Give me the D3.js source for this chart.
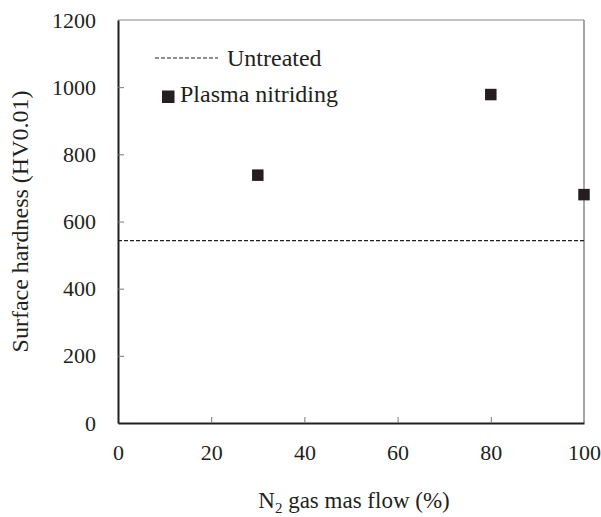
<!DOCTYPE html>
<html>
<head>
<meta charset="utf-8">
<script src="https://cdn.jsdelivr.net/npm/d3@7"></script>
<style>
  body { margin: 0; background: #fff; }
  text { font-family: "Liberation Serif", "Times New Roman", serif; fill: #231f20; }
</style>
</head>
<body>
<svg id="chart" width="601" height="517"></svg>
<script>
// ------ data ------
var flow = [30, 80, 100]
var hardness = [738, 978, 680]
var untreated = 543
var xTicks = [0, 20, 40, 60, 80, 100]
var yTicks = [0, 200, 400, 600, 800, 1000, 1200]

var svg = d3.select('#chart')
var plotLeft = 118, plotRight = 584, plotTop = 20, plotBottom = 423
var ink = '#231f20'

var x = d3.scaleLinear().domain([0, 100]).range([plotLeft, plotRight])
var y = d3.scaleLinear().domain([0, 1200]).range([plotBottom, plotTop])

// ------ frame ------
svg.append('line').attr('x1', plotLeft).attr('x2', plotRight).attr('y1', plotTop).attr('y2', plotTop)
  .attr('stroke', '#888').attr('stroke-width', 1)
svg.append('line').attr('x1', plotRight).attr('x2', plotRight).attr('y1', plotTop).attr('y2', plotBottom)
  .attr('stroke', '#888').attr('stroke-width', 1.5)

// ------ axes: ticks point inward ------
var xAxis = svg.append('g').attr('transform', 'translate(0,' + plotBottom + ')')
  .call(d3.axisBottom(x).tickValues(xTicks).tickFormat(d3.format('d'))
    .tickSizeInner(-6).tickSizeOuter(0))
var yAxis = svg.append('g').attr('transform', 'translate(' + plotLeft + ',0)')
  .call(d3.axisLeft(y).tickValues(yTicks).tickFormat(d3.format('d'))
    .tickSizeInner(-6).tickSizeOuter(0))

;[xAxis, yAxis].forEach(function (g) {
  g.select('.domain').attr('stroke', ink).attr('stroke-width', 2)
  g.selectAll('.tick line').attr('stroke', '#777').attr('stroke-width', 1)
  g.selectAll('.tick text').attr('font-size', 22).attr('fill', ink)
    .style('font-family', '"Liberation Serif", serif')
})
xAxis.selectAll('.tick text').attr('y', 21)
yAxis.selectAll('.tick text').attr('x', -22)
yAxis.selectAll('.tick line').filter(function (d) { return d === 0 || d === 1200 }).remove()
xAxis.selectAll('.tick line').filter(function (d) { return d === 0 || d === 100 }).remove()

// ------ untreated reference line ------
svg.append('line')
  .attr('x1', plotLeft).attr('x2', plotRight)
  .attr('y1', y(untreated)).attr('y2', y(untreated))
  .attr('stroke', ink).attr('stroke-width', 1.2).attr('stroke-dasharray', '4,2')

// ------ plasma nitriding points ------
var s = 11.5
svg.selectAll('rect.pt').data(flow).enter().append('rect')
  .attr('class', 'pt')
  .attr('x', function (d) { return x(d) - s / 2 })
  .attr('y', function (d, i) { return y(hardness[i]) - s / 2 })
  .attr('width', s).attr('height', s)
  .attr('fill', ink)

// ------ legend ------
svg.append('line').attr('x1', 155).attr('x2', 218).attr('y1', 58).attr('y2', 58)
  .attr('stroke', ink).attr('stroke-width', 1.2).attr('stroke-dasharray', '4,2')
svg.append('text').attr('x', 227).attr('y', 66).attr('font-size', 24).text('Untreated')
svg.append('rect').attr('x', 162).attr('y', 90.5).attr('width', 12.5).attr('height', 12.5).attr('fill', ink)
svg.append('text').attr('x', 180).attr('y', 102).attr('font-size', 24).text('Plasma nitriding')

// ------ axis titles ------
var xt = svg.append('text').attr('x', 354).attr('y', 508)
  .attr('text-anchor', 'middle').attr('font-size', 23)
xt.append('tspan').text('N')
xt.append('tspan').attr('font-size', 15).attr('dy', 5).text('2')
xt.append('tspan').attr('dy', -5).text(' gas mas flow (%)')

svg.append('text')
  .attr('transform', 'translate(28,' + (plotTop + plotBottom) / 2 + ') rotate(-90)')
  .attr('text-anchor', 'middle').attr('font-size', 24)
  .text('Surface hardness (HV0.01)')
</script>
</body>
</html>
